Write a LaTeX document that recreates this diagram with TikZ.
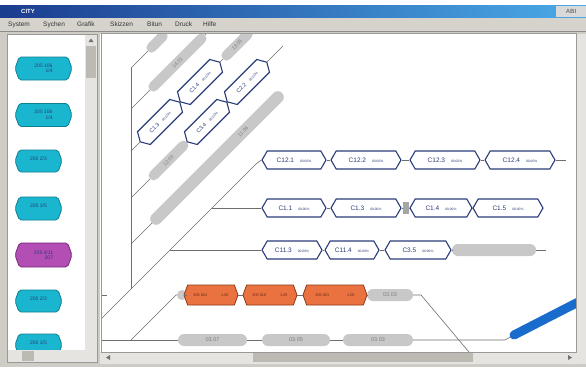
\documentclass[tikz,border=0pt]{standalone}
\usepackage{fontspec}
\setmainfont{Liberation Sans}
\usetikzlibrary{shapes.symbols,shapes.misc}
\definecolor{tbl}{HTML}{1B3C8F}
\definecolor{tbr}{HTML}{4AAAE8}
\definecolor{menug}{HTML}{D6D3CC}
\definecolor{frameg}{HTML}{CFCCC5}
\definecolor{trackg}{HTML}{E6E4E0}
\definecolor{thumbg}{HTML}{BDBAB4}
\definecolor{navy}{HTML}{2B3D78}
\definecolor{cyanf}{HTML}{1AB6CF}
\definecolor{cyand}{HTML}{0F7F92}
\definecolor{magf}{HTML}{B24EB4}
\definecolor{magd}{HTML}{76297A}
\definecolor{orf}{HTML}{EA7240}
\definecolor{ord}{HTML}{8E3A18}
\definecolor{barg}{HTML}{C8C8C8}
\definecolor{bart}{HTML}{7E7E7E}
\definecolor{lineg}{HTML}{6E6E6E}
\definecolor{bluebar}{HTML}{1A6CCC}
\tikzset{
  ln/.style={draw=lineg, line width=0.6pt},
  bnode/.style={signal, signal to=east and west, signal pointer angle=120,
    draw=navy, line width=1.1pt, fill=white, minimum height=18pt,
    inner sep=1pt, text=navy, font=\fontsize{6.5}{6.5}\selectfont},
  onode/.style={signal, signal to=east and west, signal pointer angle=140,
    draw=ord, line width=0.8pt, fill=orf, minimum height=20pt,
    inner sep=1pt, text=ord!70!black, font=\fontsize{3.8}{4}\selectfont},
  gbar/.style={rounded rectangle, fill=barg, minimum height=11pt,
    inner sep=0pt, text=bart, font=\fontsize{5.5}{6}\selectfont},
  pnode/.style={signal, signal to=east and west, signal pointer angle=140,
    rounded corners=2pt, draw=cyand, line width=0.8pt, fill=cyanf,
    inner sep=1pt, text=navy, font=\fontsize{5}{5.5}\selectfont, align=right},
  menuitem/.style={anchor=west, inner sep=0pt, text=black!80, font=\fontsize{6.5}{7}\selectfont}
}
\newcommand{\bl}[2]{#1\hspace{6pt}{\fontsize{3.3}{4}\selectfont #2}}
\newcommand{\rl}[2]{{\fontsize{5.5}{5.5}\selectfont #1}\hspace{5pt}{\fontsize{3.3}{4}\selectfont #2}}
\begin{document}
\begin{tikzpicture}[x=1pt,y=-1pt]
\useasboundingbox (0,0) rectangle (586,367);
\fill[white] (0,0) rectangle (586,367);
% title bar
\shade[left color=tbl, right color=tbr] (0,5) rectangle (586,18);
\node[anchor=west, inner sep=0pt, text=white, font=\bfseries\fontsize{6}{6}\selectfont] (title) at (21,11.5) {CITY};
\fill[black!15] (556,6) rectangle (586,17);
\node[inner sep=0pt, text=black!55, font=\bfseries\fontsize{6}{6}\selectfont] (logo) at (571,11.5) {ABI};
% menu bar
\fill[menug] (0,18) rectangle (586,31);
\node[menuitem] (m1) at (8,24.5) {System};
\node[menuitem] (m2) at (43,24.5) {Sychen};
\node[menuitem] (m3) at (77,24.5) {Grafik};
\node[menuitem] (m4) at (110,24.5) {Skizzen};
\node[menuitem] (m5) at (147,24.5) {Bitun};
\node[menuitem] (m6) at (175,24.5) {Druck};
\node[menuitem] (m7) at (203,24.5) {Hilfe};
% frame
\fill[frameg] (0,31) rectangle (586,367);
\draw[black!45] (0,31.5) -- (586,31.5);
% left panel
\fill[white] (8,35) rectangle (85,350);
\draw[black!40] (7.5,34.5) rectangle (97.5,362.5);
\fill[trackg] (85,35) rectangle (97,350);
\fill[thumbg] (86,46) rectangle (96,78);
\fill[black!55] (88.5,42) -- (93.5,42) -- (91,38.5) -- cycle;
% left panel nodes
\begin{scope}
\clip (8,35) rectangle (85,350);
\node[pnode, minimum width=57pt, minimum height=23pt] (p1) at (43.5,68.5) {205 106\hspace{6pt}\\1/4};
\node[pnode, minimum width=57pt, minimum height=23pt] (p2) at (43.5,115) {205 106\hspace{6pt}\\1/4};
\node[pnode, minimum width=47pt, minimum height=22pt] (p3) at (38.5,161) {205 2/3\hspace{3pt}\\ };
\node[pnode, minimum width=47pt, minimum height=23pt] (p4) at (38.5,208.5) {205 3/5\hspace{3pt}\\ };
\node[pnode, fill=magf, draw=magd, minimum width=57pt, minimum height=24pt] (p5) at (43.5,255) {205 4/11\hspace{6pt}\\207};
\node[pnode, minimum width=47pt, minimum height=22pt] (p6) at (38.5,301) {205 2/3\hspace{3pt}\\ };
\node[pnode, minimum width=47pt, minimum height=22pt] (p7) at (38.5,345) {205 3/5\hspace{3pt}\\ };
\end{scope}
\fill[trackg] (8,350) rectangle (97,362);
\fill[thumbg] (22,351) rectangle (34,361);
% main canvas
\fill[white] (100,34) rectangle (576,352);
\draw[black!50] (101.5,34) -- (101.5,352);
\fill[trackg] (576,34) rectangle (586,352);
\fill[trackg] (100,352) rectangle (586,364);
\fill[thumbg] (253,353) rectangle (473,362);
\fill[black!55] (106,357.5) -- (110,355) -- (110,360) -- cycle;
\fill[black!55] (572,357.5) -- (568,355) -- (568,360) -- cycle;
\begin{scope}
\clip (102,34) rectangle (576,352);
% vertical trunk and main diagonal
\coordinate (vtop) at (131,68);
\coordinate (vbot) at (131,289);
\coordinate (mstart) at (100,320);
\coordinate (mend) at (256,164);
\coordinate (brB) at (212,208);
\coordinate (brC) at (170,250);
\draw[ln] (vtop) -- (vbot);
\draw[ln] (100,295) -- (107,295);
% D1
\node[gbar, rotate=45, minimum width=26pt, minimum height=10pt] (g1) at (157,42) {};
\draw[ln] (vtop) -- (g1.west);
% D2
\coordinate (v2) at (131,109);
\node[gbar, rotate=45, minimum width=78pt, minimum height=10pt, font=\fontsize{5}{5}\selectfont] (g2) at (177.5,62.5) {14.01};
\draw[ln] (v2) -- (g2.west);
\coordinate (e2) at (214,26);
\draw[ln] (g2.east) -- (e2);
% D3
\coordinate (v3) at (131,151);
\node[bnode, rotate=45, minimum width=56pt] (c13) at (160,122) {\rl{C1.3}{00:00\%}};
\node[bnode, rotate=45, minimum width=56pt] (c14) at (200,82) {\rl{C1.4}{00:00\%}};
\node[gbar, rotate=45, minimum width=40pt, minimum height=10pt, font=\fontsize{5}{5}\selectfont] (g3) at (237,45) {13.05};
\draw[ln] (v3) -- (c13.west);
\draw[ln] (c13.east) -- (c14.west);
\draw[ln] (c14.east) -- (g3.west);
% D4
\coordinate (v4) at (131,198);
\node[gbar, rotate=45, minimum width=52pt, minimum height=10pt, font=\fontsize{5}{5}\selectfont] (g4) at (168.5,160.5) {12.03};
\node[bnode, rotate=45, minimum width=56pt] (c3x) at (207,122) {\rl{C3.4}{00:00\%}};
\node[bnode, rotate=45, minimum width=56pt] (c22) at (247,82) {\rl{C2.2}{00:00\%}};
\coordinate (e4) at (283,46);
\draw[ln] (v4) -- (g4.west);
\draw[ln] (g4.east) -- (c3x.west);
\draw[ln] (c3x.east) -- (c22.west);
\draw[ln] (c22.east) -- (e4);
% D5 thick bar
\coordinate (v5) at (131,244);
\node[gbar, rotate=45, minimum width=184pt, minimum height=12pt] (g5) at (217,158) {};
\node[inner sep=0pt, rotate=45, text=bart, font=\fontsize{5}{5}\selectfont] (g5l) at (243,132) {11.06};
\draw[ln] (v5) -- (g5.west);
% row A
\node[bnode, minimum width=64pt] (a1) at (294,160) {\bl{C12.1}{00:00\%}};
\node[bnode, minimum width=70pt] (a2) at (366,160) {\bl{C12.2}{00:00\%}};
\node[bnode, minimum width=70pt] (a3) at (445,160) {\bl{C12.3}{00:00\%}};
\node[bnode, minimum width=70pt] (a4) at (520,160) {\bl{C12.4}{00:00\%}};
\coordinate (ea) at (566,160);
\draw[ln] (mstart) -- (mend) -- (a1.west);
\draw[ln] (a1.east) -- (a2.west);
\draw[ln] (a2.east) -- (a3.west);
\draw[ln] (a3.east) -- (a4.west);
\draw[ln] (a4.east) -- (ea);
% row B
\node[bnode, minimum width=64pt] (b1) at (294,208) {\bl{C1.1}{00:00\%}};
\node[bnode, minimum width=70pt] (b2) at (366,208) {\bl{C1.3}{00:00\%}};
\node[fill=black!35, minimum width=6pt, minimum height=12pt, inner sep=0pt] (bx) at (406,208) {};
\node[bnode, minimum width=62pt] (b3) at (441,208) {\bl{C1.4}{00:00\%}};
\node[bnode, minimum width=70pt] (b4) at (508,208) {\bl{C1.5}{00:00\%}};
\draw[ln] (brB) -- (b1.west);
\draw[ln] (b1.east) -- (b2.west);
\draw[ln] (b2.east) -- (bx.west);
\draw[ln] (bx.east) -- (b3.west);
\draw[ln] (b3.east) -- (b4.west);
% row C
\node[bnode, minimum width=60pt] (r1) at (292,250) {\bl{C11.3}{00:00\%}};
\node[bnode, minimum width=54pt] (r2) at (352,250) {\bl{C11.4}{00:00\%}};
\node[bnode, minimum width=66pt] (r3) at (418,250) {\bl{C3.5}{00:00\%}};
\node[gbar, minimum width=84pt, minimum height=12pt] (rg) at (494,250) {};
\coordinate (ec) at (546,250);
\draw[ln] (brC) -- (r1.west);
\draw[ln] (r1.east) -- (r2.west);
\draw[ln] (r2.east) -- (r3.west);
\draw[ln] (r3.east) -- (rg.west);
\draw[ln] (rg.east) -- (ec);
% orange row
\coordinate (ho) at (131,340);
\coordinate (ko) at (176,295);
\node[gbar, minimum width=8pt, minimum height=10pt] (lump) at (182,295) {};
\node[onode, minimum width=54pt] (o1) at (211,295) {305 004\hspace{14pt}1.00};
\node[onode, minimum width=54pt] (o2) at (270,295) {305 016\hspace{14pt}1.05};
\node[onode, minimum width=64pt] (o3) at (335,295) {305 001\hspace{18pt}1.00};
\node[gbar, minimum width=46pt, minimum height=12pt] (go) at (390,295) {03.03};
\coordinate (ko2) at (421,295);
\coordinate (ko3) at (474,358);
\draw[ln] (ho) -- (ko) -- (lump.west);
\draw[ln] (lump.east) -- (o1.west);
\draw[ln] (o1.east) -- (o2.west);
\draw[ln] (o2.east) -- (o3.west);
\draw[ln] (o3.east) -- (go.west);
\draw[ln] (go.east) -- (ko2) -- (ko3);
% bottom row
\coordinate (hs) at (100,340);
\node[gbar, minimum width=69pt, minimum height=12pt] (h1) at (212.5,340) {03.07};
\node[gbar, minimum width=68pt, minimum height=12pt] (h2) at (296,340) {03.05};
\node[gbar, minimum width=70pt, minimum height=12pt] (h3) at (378,340) {03.03};
\coordinate (he) at (505,340);
\coordinate (bbs) at (514,335);
\coordinate (bbe) at (590,296);
\draw[ln] (hs) -- (h1.west);
\draw[ln] (h1.east) -- (h2.west);
\draw[ln] (h2.east) -- (h3.west);
\draw[ln] (h3.east) -- (he) -- (bbs);
\draw[draw=bluebar, line width=9pt, line cap=round] (bbs) -- (bbe);
\end{scope}
\draw[black!40] (101.5,33.5) rectangle (576,352);
\end{tikzpicture}
\end{document}
